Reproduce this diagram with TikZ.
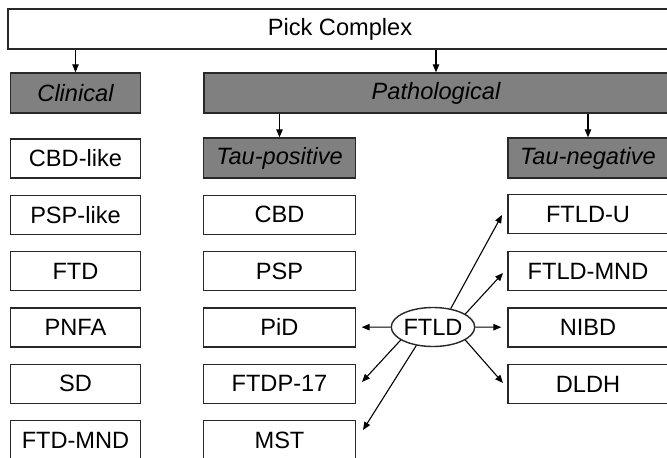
\documentclass[tikz,border=0pt]{standalone}
\usepackage{fontspec}
\setmainfont{Liberation Sans}
\usetikzlibrary{arrows.meta,shapes.geometric}
\definecolor{boxgray}{RGB}{128,128,128}
\definecolor{edge}{RGB}{40,40,40}
\tikzset{
  box/.style={draw=edge, line width=1.4pt, fill=white, inner sep=0pt,
    minimum height=39pt, font=\fontsize{23.6}{25}\selectfont, text=black},
  leftbox/.style={box, minimum width=130pt},
  midbox/.style={box, minimum width=152pt},
  rightbox/.style={box, minimum width=160pt},
  head/.style={box, fill=boxgray, minimum height=40pt, font=\fontsize{23.6}{25}\selectfont\itshape},
  arr/.style={draw=black, line width=1.1pt, -{Triangle[length=8pt,width=6.5pt]}},
}
\begin{document}
\begin{tikzpicture}[x=1pt,y=-1pt]
\useasboundingbox (0,0) rectangle (667,458);
\clip (0,0) rectangle (667,458);
% top
\node[box, minimum width=664pt, minimum height=40pt] (pick) at (340,29) {Pick Complex};
\node[head, minimum width=130pt] (clin) at (75.5,93) {Clinical};
\node[head, minimum width=464pt] (path) at (436,93) {Pathological};
\node[head, minimum width=152pt] (taup) at (279.5,158) {Tau-positive};
\node[head, minimum width=160pt] (taun) at (588,158) {Tau-negative};
% clinical column
\node[leftbox] (cbdl) at (75.5,158.5) {CBD-like};
\node[leftbox] (pspl) at (75.5,214.8) {PSP-like};
\node[leftbox] (ftd)  at (75.5,271.1) {FTD};
\node[leftbox] (pnfa) at (75.5,327.4) {PNFA};
\node[leftbox] (sd)   at (75.5,383.7) {SD};
\node[leftbox] (ftdmnd) at (75.5,440) {FTD-MND};
% tau-positive column
\node[midbox] (cbd)  at (279.5,214.8) {CBD};
\node[midbox] (psp)  at (279.5,271.1) {PSP};
\node[midbox] (pid)  at (279.5,327.4) {PiD};
\node[midbox] (ftdp) at (279.5,383.7) {FTDP-17};
\node[midbox] (mst)  at (279.5,440) {MST};
% tau-negative column
\node[rightbox] (ftldu) at (588,214) {FTLD-U};
\node[rightbox] (ftldmnd) at (588,271) {FTLD-MND};
\node[rightbox] (nibd) at (588,327.5) {NIBD};
\node[rightbox] (dldh) at (588,384) {DLDH};
% FTLD ellipse
\node[ellipse, draw=edge, line width=1.4pt, fill=white, inner sep=0pt,
  minimum width=81pt, minimum height=39pt,
  font=\fontsize{23.6}{25}\selectfont] (ftld) at (433,327) {FTLD};
% top arrows
\draw[arr] (pick.south -| clin) -- (clin.north);
\draw[arr] (pick.south -| path) -- (path.north);
\draw[arr] (path.south -| taup) -- (taup.north);
\draw[arr] (path.south -| taun) -- (taun.north);
% FTLD arrows
\coordinate (tftdp) at (362,382);
\coordinate (tmst) at (363,430);
\coordinate (tdldh) at (503,383);
\coordinate (tmnd) at (503,273);
\coordinate (tu) at (502,215);
\draw[arr, shorten >=5.5pt] (ftld) -- (pid);
\draw[arr, shorten >=6pt] (ftld) -- (nibd);
\draw[arr] (ftld.202) -- (tftdp);
\draw[arr] (ftld.228) -- (tmst);
\draw[arr] (ftld.338) -- (tdldh);
\draw[arr] (ftld.22) -- (tmnd);
\draw[arr] (ftld.46) -- (tu);
\end{tikzpicture}
\end{document}
